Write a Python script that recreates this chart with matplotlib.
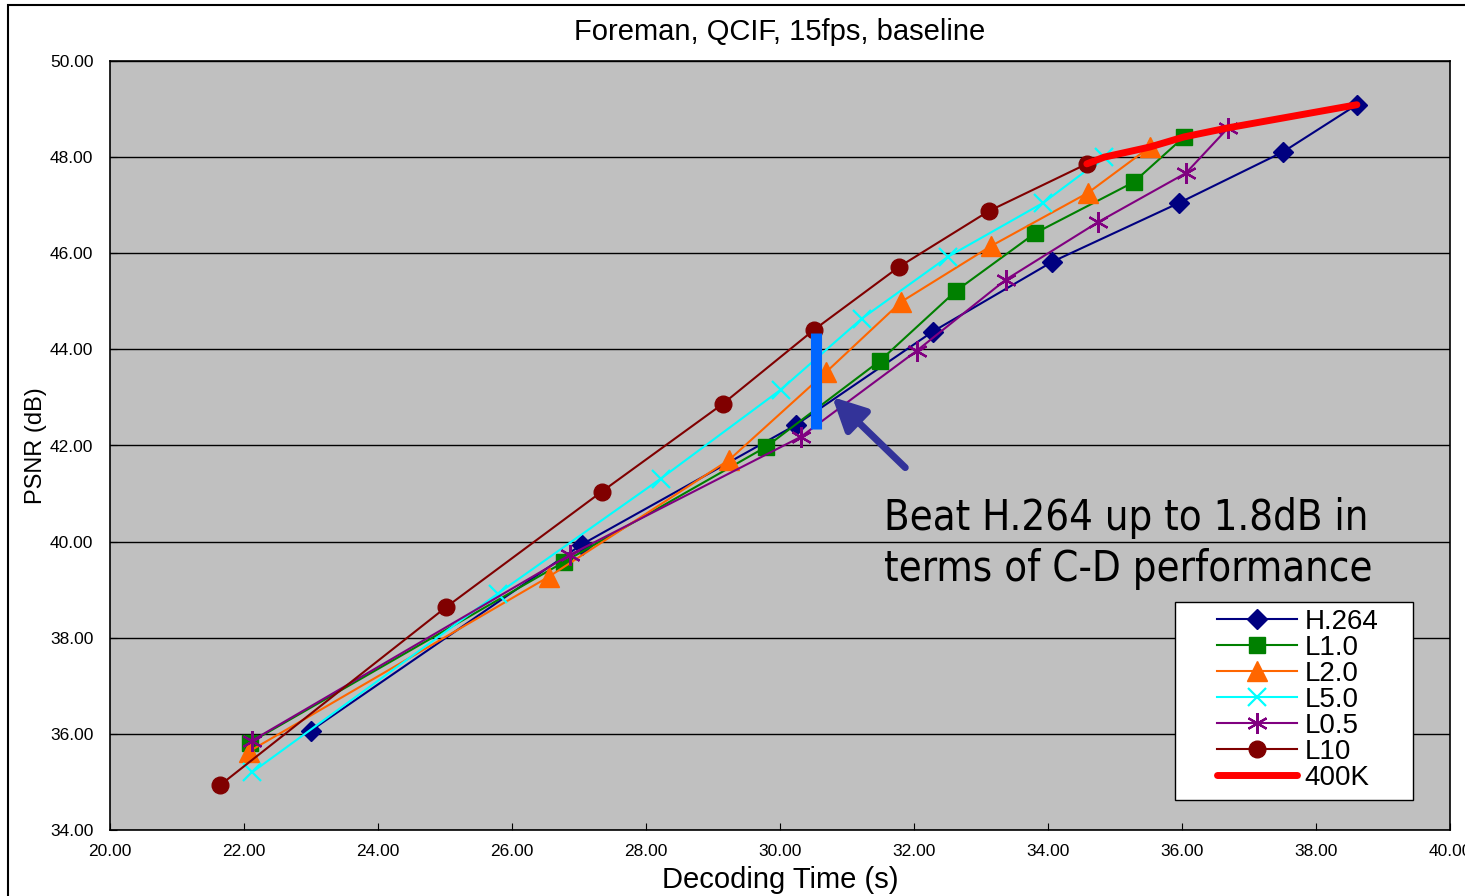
import matplotlib
matplotlib.use("Agg")
import matplotlib.pyplot as plt
from matplotlib.patches import Rectangle

# --- данные ---------------------------------------------------------------
h264_x = [23.00, 27.04, 30.24, 32.28, 34.06, 35.96, 37.51, 38.61]
h264_y = [36.07, 39.94, 42.43, 44.37, 45.82, 47.05, 48.11, 49.09]
l10_x = [22.09, 26.78, 29.79, 31.49, 32.63, 33.81, 35.28, 36.03]
l10_y = [35.82, 39.58, 41.97, 43.76, 45.22, 46.42, 47.48, 48.42]
l20_x = [22.07, 26.55, 29.24, 30.69, 31.81, 33.15, 34.60, 35.52]
l20_y = [35.63, 39.27, 41.70, 43.53, 44.99, 46.15, 47.26, 48.21]
l50_x = [22.12, 25.79, 28.22, 30.01, 31.22, 32.51, 33.93, 34.84]
l50_y = [35.20, 38.92, 41.31, 43.16, 44.64, 45.93, 47.05, 48.00]
l05_x = [22.12, 26.87, 30.31, 32.04, 33.37, 34.75, 36.06, 36.69]
l05_y = [35.86, 39.73, 42.18, 43.97, 45.45, 46.65, 47.67, 48.61]
l100_x = [21.64, 25.01, 27.34, 29.15, 30.51, 31.78, 33.12, 34.58]
l100_y = [34.93, 38.63, 41.04, 42.87, 44.41, 45.72, 46.88, 47.86]
# огибающая 400K проходит через последние точки кривых
k400_x = [34.58, 34.84, 35.52, 36.03, 36.69, 38.61]
k400_y = [47.86, 48.00, 48.21, 48.42, 48.61, 49.09]

gain_x = 30.53
gain_lo, gain_hi = 42.35, 44.35
arrow_from = (31.87, 41.54)
arrow_to = (30.78, 43.01)
note = "Beat H.264 up to 1.8dB in\nterms of C-D performance"

x_ticks = [20 + 2 * i for i in range(11)]
y_ticks = [34 + 2 * i for i in range(9)]

# --- рисунок --------------------------------------------------------------
fig = plt.figure(figsize=(14.65, 8.96), dpi=100)
fig.patches.append(Rectangle((8 / 1465, -0.05), 1.1, 1.05 - 5 / 896, transform=fig.transFigure,
                             fill=False, edgecolor="black", linewidth=1.5))
ax = fig.add_axes([110 / 1465, 1 - 830 / 896, 1340 / 1465, 769 / 896])
ax.set_facecolor("#C0C0C0")

series = [
    ("H.264", h264_x, h264_y, "#000080", dict(marker="D", markersize=10)),
    ("L1.0", l10_x, l10_y, "#008000", dict(marker="s", markersize=11)),
    ("L2.0", l20_x, l20_y, "#FF6600", dict(marker="^", markersize=14)),
    ("L5.0", l50_x, l50_y, "#00FFFF", dict(marker="x", markersize=13, markeredgewidth=1.6)),
    ("L0.5", l05_x, l05_y, "#800080", dict(marker=(6, 2, 0), markersize=15, markeredgewidth=1.6)),
    ("L10", l100_x, l100_y, "#800000", dict(marker="o", markersize=12)),
]
for name, xs, ys, color, mk in series:
    ax.plot(xs, ys, color=color, linewidth=1.5, markerfacecolor=color, markeredgecolor=color,
            label=name, zorder=3, **mk)
ax.plot(k400_x, k400_y, color="#FF0000", linewidth=5, solid_capstyle="round",
        solid_joinstyle="round", label="400K", zorder=4)

# Полоса выигрыша и стрелка с подписью.
ax.plot([gain_x, gain_x], [gain_lo, gain_hi], color="#0066FF", linewidth=8, solid_capstyle="butt", zorder=5)
ax.annotate("", xy=arrow_to, xytext=arrow_from,
            arrowprops=dict(arrowstyle="-|>,head_length=2.0,head_width=1.0", color="#333399",
                            linewidth=5, shrinkA=0, shrinkB=0), zorder=6)
ax.text(31.55, 39.0, note, fontsize=30, family="DejaVu Sans", fontstretch="condensed",
        color="black", linespacing=1.25, ha="left", va="bottom")

ax.set_xlim(20, 40)
ax.set_ylim(34, 50)
ax.set_xticks(x_ticks)
ax.set_yticks(y_ticks)
ax.set_xticklabels([f"{v:.2f}" for v in x_ticks], family="Liberation Sans", fontsize=12.5)
ax.set_yticklabels([f"{v:.2f}" for v in y_ticks], family="Liberation Sans", fontsize=12.5)
ax.tick_params(direction="in", length=5, pad=12)
ax.tick_params(axis="x", pad=10)
ax.yaxis.grid(True, color="black", linewidth=1)
ax.set_axisbelow(True)
for sp in ax.spines.values():
    sp.set_linewidth(1.2)

ax.set_title("Foreman, QCIF, 15fps, baseline", fontsize=21, family="Liberation Sans", pad=15)
ax.set_xlabel("Decoding Time (s)", fontsize=21, family="Liberation Sans", labelpad=5)
ax.set_ylabel("PSNR (dB)", fontsize=17, family="Liberation Sans", labelpad=2)

# Легенда без своей рамки; рамку рисуем отдельно, как в оригинале.
leg = ax.legend(loc="upper left", bbox_to_anchor=(0.826, 0.288), frameon=False,
                prop={"family": "Liberation Sans", "size": 20}, borderpad=0, borderaxespad=0,
                handlelength=2.9, handletextpad=0.25, labelspacing=0.0)
leg.set_zorder(8)
ax.add_patch(Rectangle((0.7948, 0.039), 0.1776, 0.2575, transform=ax.transAxes,
                       facecolor="white", edgecolor="black", linewidth=1, zorder=7))

fig.savefig("out.png", dpi=100)
